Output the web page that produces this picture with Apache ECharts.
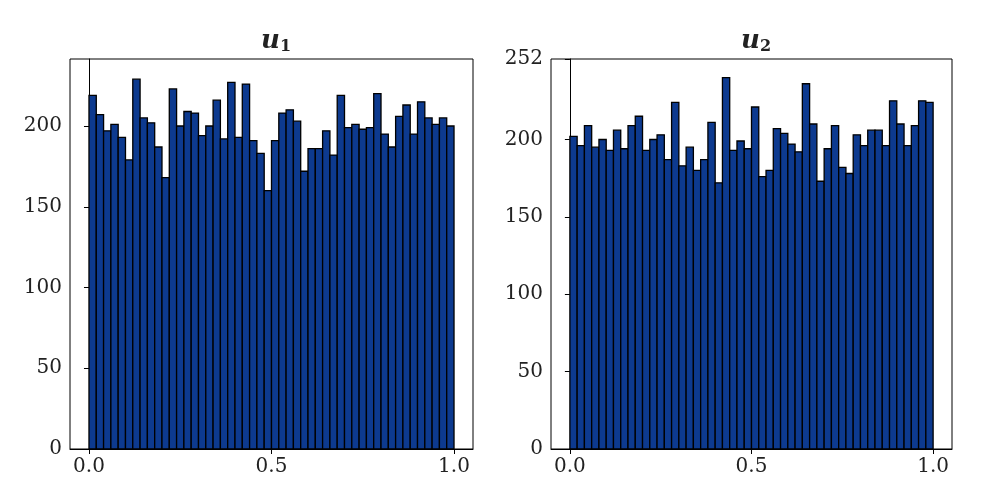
<!DOCTYPE html>
<html><head><meta charset="utf-8">
<script src="https://cdn.jsdelivr.net/npm/echarts@6/dist/echarts.min.js"></script>
<style>html,body{margin:0;background:#fff}#c{width:983px;height:491px}</style>
</head><body><div id="c"></div>
<script>
const BIN_EDGES_START = 0;
const BIN_WIDTH = 0.02;
const U1_COUNTS = [219,207,197,201,193,179,229,205,202,187,168,223,200,209,208,194,200,216,192,227,
  193,226,191,183,160,191,208,210,203,172,186,186,197,182,219,199,201,198,199,220,
  195,187,206,213,195,215,205,201,205,200];
const U2_COUNTS = [202,196,209,195,200,193,206,194,209,215,193,200,203,187,224,183,195,180,187,211,
  172,240,193,199,194,221,176,180,207,204,197,192,236,210,173,194,209,182,178,203,
  196,206,206,196,225,210,196,209,225,224];
const X_TICKS = [0, 0.5, 1];

const chart = echarts.init(document.getElementById('c'));
const font = '"DejaVu Serif", serif';

function histData(counts) {
  return counts.map((v, i) => [BIN_EDGES_START + i * BIN_WIDTH, BIN_EDGES_START + (i + 1) * BIN_WIDTH, v]);
}
function renderBar(params, api) {
  const p0 = api.coord([api.value(0), api.value(2)]);
  const p1 = api.coord([api.value(1), 0]);
  return {
    type: 'rect',
    shape: { x: p0[0], y: p0[1], width: p1[0] - p0[0], height: p1[1] - p0[1] },
    style: { fill: '#0d3a8f', stroke: '#000', lineWidth: 1.3 }
  };
}
function xAxis(idx) {
  return {
    gridIndex: idx, type: 'value', min: -0.052, max: 1.052,
    axisLine: { onZero: false, lineStyle: { color: '#000' } },
    axisTick: { show: true, customValues: X_TICKS, length: 5, lineStyle: { color: '#000' } },
    axisLabel: { customValues: X_TICKS, color: '#222', fontFamily: font, fontSize: 20, margin: 8,
      formatter: v => v.toFixed(1) },
    splitLine: { show: false }
  };
}
function yAxis(idx, max) {
  return {
    gridIndex: idx, type: 'value', min: 0, max: max, interval: 50,
    axisLine: { show: true, lineStyle: { color: '#000' } },
    axisTick: { show: true, length: 5, lineStyle: { color: '#000' } },
    axisLabel: { color: '#222', fontFamily: font, fontSize: 20, margin: 8, showMaxLabel: max % 50 === 0 || max > 250 },
    splitLine: { show: false }
  };
}
const titleRich = {
  u: { fontFamily: font, fontStyle: 'italic', fontSize: 26, color: '#222' },
  s: { fontFamily: font, fontSize: 16, color: '#222', verticalAlign: 'bottom', padding: [12, 0, 0, 0] }
};
chart.setOption({
  animation: false,
  title: [
    { text: '{u|u}{s|1}', left: 271, top: 22, textAlign: 'center', textStyle: { rich: titleRich } },
    { text: '{u|u}{s|2}', left: 751, top: 22, textAlign: 'center', textStyle: { rich: titleRich } }
  ],
  grid: [
    { left: 70, top: 59, width: 403, height: 390, show: true, borderColor: '#000', borderWidth: 1 },
    { left: 551, top: 59, width: 401, height: 390, show: true, borderColor: '#000', borderWidth: 1 }
  ],
  xAxis: [xAxis(0), xAxis(1)],
  yAxis: [yAxis(0, 241.5), yAxis(1, 252)],
  series: [
    { type: 'custom', xAxisIndex: 0, yAxisIndex: 0, renderItem: renderBar, data: histData(U1_COUNTS) },
    { type: 'custom', xAxisIndex: 1, yAxisIndex: 1, renderItem: renderBar, data: histData(U2_COUNTS) }
  ]
});
</script></body></html>
